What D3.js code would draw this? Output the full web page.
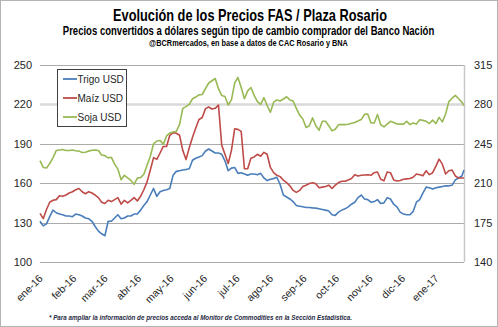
<!DOCTYPE html>
<html><head><meta charset="utf-8">
<script src="https://cdn.jsdelivr.net/npm/d3@7"></script>
<style>html,body{margin:0;padding:0;background:#fff}svg{display:block}</style>
</head><body><svg id="c" width="498" height="327"></svg>
<script>
const dates = [
"2016-01-01","2016-01-04","2016-01-07","2016-01-10","2016-01-13","2016-01-16","2016-01-19","2016-01-22","2016-01-25","2016-01-28",
"2016-01-31","2016-02-03","2016-02-06","2016-02-09","2016-02-12","2016-02-15","2016-02-18","2016-02-21","2016-02-24","2016-02-27",
"2016-03-01","2016-03-04","2016-03-07","2016-03-10","2016-03-13","2016-03-16","2016-03-19","2016-03-22","2016-03-25","2016-03-28",
"2016-03-31","2016-04-03","2016-04-06","2016-04-09","2016-04-12","2016-04-15","2016-04-18","2016-04-21","2016-04-24","2016-04-27",
"2016-04-30","2016-05-03","2016-05-06","2016-05-09","2016-05-12","2016-05-15","2016-05-18","2016-05-21","2016-05-24","2016-05-27",
"2016-05-30","2016-06-02","2016-06-05","2016-06-08","2016-06-11","2016-06-14","2016-06-17","2016-06-20","2016-06-23","2016-06-26",
"2016-06-29","2016-07-02","2016-07-05","2016-07-08","2016-07-11","2016-07-14","2016-07-17","2016-07-20","2016-07-23","2016-07-26",
"2016-07-29","2016-08-01","2016-08-04","2016-08-07","2016-08-10","2016-08-13","2016-08-16","2016-08-19","2016-08-22","2016-08-25",
"2016-08-28","2016-08-31","2016-09-03","2016-09-06","2016-09-09","2016-09-12","2016-09-15","2016-09-18","2016-09-21","2016-09-24",
"2016-09-27","2016-09-30","2016-10-03","2016-10-06","2016-10-09","2016-10-12","2016-10-15","2016-10-18","2016-10-21","2016-10-24",
"2016-10-27","2016-10-30","2016-11-02","2016-11-05","2016-11-08","2016-11-11","2016-11-14","2016-11-17","2016-11-20","2016-11-23",
"2016-11-26","2016-11-29","2016-12-02","2016-12-05","2016-12-08","2016-12-11","2016-12-14","2016-12-17","2016-12-20","2016-12-23",
"2016-12-26","2016-12-29","2017-01-01","2017-01-04","2017-01-07","2017-01-10","2017-01-13","2017-01-16","2017-01-19","2017-01-22",
"2017-01-25","2017-01-27"];

const trigo = [
131,127.5,129,134.5,139.5,137.5,136.5,136,135,135,
134.5,136.5,136,135,133.5,133,131,127,123.5,121.5,
120,131,131,133.5,136,133,133.5,135,135,136.5,
136.5,139.5,143,146,151,156,150,153.5,154.5,155,
156,166,169,169.5,170,170.5,171,177.5,179,180,
181,184.5,186,184.5,183,183,182,177,169.5,171.5,
172,167.5,168,167,166,167,167,166.5,167.5,164,
162,163,163.5,164.5,159,151,149.5,148,146,143,
142.5,142,141.5,141.5,141.2,141,140.5,140,139.5,138.8,
136,135.5,138,139.5,140.5,142,144,145.5,149,151,
148,147.5,145.5,146,147.5,144.5,145,149,148,144,
142,138,136.5,136,136,138.5,145.5,147.5,152.5,157,
156.5,155.5,156.5,157,157.5,158,158,158.5,162.5,164,
165.5,170];

const maiz = [
137,133,140,145.5,147,147.5,150.5,150,151,152.5,
153.5,155,156,153.5,152,153.5,152.5,151,149,145.5,
144.5,147,146,147.5,149,144,147,145,147,149,
146.5,150,155,161,170,179.5,178.2,183,188,188,
196.5,198.5,198,196.5,185,178,187,195,202,208.5,
210,216.8,218,216.5,217,219.5,189,182,175,185,
201.5,201,199.5,171,171,179,180,182,180.5,183.5,
182,172,168,166,165,162.3,160.5,158,154.5,153,
154.5,157.5,158.5,159.8,160.4,159.5,156.5,157,157.5,158.5,
156,158.5,160.5,161.5,161.5,162.5,163.5,166.5,165.5,166,
166.3,166.4,166,168,168.5,163,161.8,168.5,168,162.5,
161.7,162,163,163.3,163.6,164.5,167,166.5,165.7,169.5,
166.5,168,173,178.3,174.5,167,169.5,170,165.5,164,
164,164];

const soja = [
230,224,223.5,227.5,232.5,239,239.5,240,239,239,
239.5,238.8,238.5,237.3,237.5,238.5,239.2,239.5,239,235,
234.5,232.5,233,227,222.5,213,217,214.8,212.5,209,
214.5,215,218,226,234,245,247.5,248,244.5,252,
254.5,255.5,256,262,276.5,278,280,285,286.5,288.5,
288.8,294,299,301,303,294,288,287,279.5,284,
299,304,295,285,292,295,288,282.5,280,286,
279,273,282,284,283,284.8,286.8,284,283,276.5,
270.5,267,259.5,261,268,261,257,265,265,261,
256.5,258,262,262.2,262,262.3,263.2,264,265.3,266.5,
271.2,271.5,263.5,263.5,271,262,260,262.5,265,264,
262.6,262.5,262.5,265,262,263.5,262.5,266.3,265.8,265,
263,266,263,268.5,264.5,271.5,282.5,285.5,288,285,
282,279];

const seriesNames = ["Trigo USD","Maíz USD","Soja USD"];
const seriesColors = ["#4a7ebb","#be4b48","#98b954"];
const leftTicks = [100,130,160,190,220,250];
const rightTicks = [140,175,210,245,280,315];
const monthTicks = ["2016-01-01","2016-02-01","2016-03-01","2016-04-01","2016-05-01","2016-06-01","2016-07-01","2016-08-01","2016-09-01","2016-10-01","2016-11-01","2016-12-01","2017-01-01"];
const monthLabels = ["ene-16","feb-16","mar-16","abr-16","may-16","jun-16","jul-16","ago-16","sep-16","oct-16","nov-16","dic-16","ene-17"];
const titleText = "Evolución de los Precios FAS / Plaza Rosario";
const subtitleText = "Precios convertidos a dólares según tipo de cambio comprador del Banco Nación";
const sourceText = "@BCRmercados, en base a datos de CAC Rosario y BNA";
const footnoteText = "* Para ampliar la información de precios acceda al Monitor de Commodities en la Sección Estadística.";

const parse = d3.timeParse("%Y-%m-%d");
const D = dates.map(parse);
const svg = d3.select("#c");
const W = 498, H = 327;
const m = {l:40, r:464, t:65, b:262};

svg.append("rect").attr("x",0.5).attr("y",0.5).attr("width",W-1).attr("height",H-1)
  .attr("fill","#fff").attr("stroke","#b3b3b3");

const x = d3.scaleTime().domain([parse("2016-01-01"), parse("2017-01-27")]).range([m.l, m.r]);
const yL = d3.scaleLinear().domain([100,250]).range([m.b, m.t]);
const yR = d3.scaleLinear().domain([140,315]).range([m.b, m.t]);

svg.append("g").selectAll("line").data(leftTicks).join("line")
  .attr("x1", m.l).attr("x2", m.r)
  .attr("y1", d=>Math.round(yL(d))+0.5).attr("y2", d=>Math.round(yL(d))+0.5)
  .attr("stroke", d=> d===220 ? "#d9d9d9" : "#ababab")
  .attr("stroke-width", d=> d===220 ? 2.5 : 1);

svg.append("line").attr("x1", m.r+0.5).attr("x2", m.r+0.5).attr("y1", m.t).attr("y2", m.b)
  .attr("stroke","#c8c8c8").attr("stroke-width",1.5);

const fontAxis = "'Liberation Sans', Arial, sans-serif";

const gL = svg.append("g").attr("transform",`translate(${m.l},0)`)
  .call(d3.axisLeft(yL).tickValues(leftTicks).tickSize(0).tickPadding(8));
gL.select(".domain").remove();
gL.selectAll("text").attr("font-family",fontAxis).attr("font-size",11).attr("fill","#262626");

const gR = svg.append("g").attr("transform",`translate(${m.r},0)`)
  .call(d3.axisRight(yR).tickValues(rightTicks).tickSize(0).tickPadding(10));
gR.select(".domain").remove();
gR.selectAll("text").attr("font-family",fontAxis).attr("font-size",11).attr("fill","#262626");

const gX = svg.append("g").attr("transform",`translate(0,${m.b})`)
  .call(d3.axisBottom(x).tickValues(monthTicks.map(parse)).tickFormat((d,i)=>monthLabels[i]).tickSize(0));
gX.select(".domain").remove();
gX.selectAll("text")
  .attr("font-family",fontAxis).attr("font-size",10.5).attr("fill","#262626")
  .attr("text-anchor","end").attr("dy",null).attr("y",null)
  .attr("transform","translate(3,17) rotate(-45)");

const lineL = d3.line().x((d,i)=>x(D[i])).y(d=>yL(d));
const lineR = d3.line().x((d,i)=>x(D[i])).y(d=>yR(d));
svg.append("path").datum(trigo).attr("d",lineL).attr("fill","none").attr("stroke",seriesColors[0]).attr("stroke-width",1.6).attr("stroke-linejoin","round");
svg.append("path").datum(maiz).attr("d",lineL).attr("fill","none").attr("stroke",seriesColors[1]).attr("stroke-width",1.6).attr("stroke-linejoin","round");
svg.append("path").datum(soja).attr("d",lineR).attr("fill","none").attr("stroke",seriesColors[2]).attr("stroke-width",1.6).attr("stroke-linejoin","round");

const lg = svg.append("g");
lg.append("rect").attr("x",57.5).attr("y",69.5).attr("width",69).attr("height",57)
  .attr("fill","#fff").attr("stroke","#404040").attr("stroke-width",1);
seriesNames.forEach((n,i)=>{
  const yy = 79 + i*19;
  lg.append("line").attr("x1",63).attr("x2",77).attr("y1",yy).attr("y2",yy)
    .attr("stroke",seriesColors[i]).attr("stroke-width",1.8);
  lg.append("text").attr("x",77.5).attr("y",yy+3.5).text(n)
    .attr("font-family",fontAxis).attr("font-size",10).attr("fill","#262626");
});

// condensed titles: keep the font height, squeeze horizontally to the reference width
function condensed(txt, cx, cy, fs, target, weight){
  const g = svg.append("g");
  const t = g.append("text").attr("x",0).attr("y",0).attr("text-anchor","middle")
    .attr("font-family",fontAxis).attr("font-weight",weight).attr("font-size",fs).attr("fill","#000").text(txt);
  const w = t.node().getComputedTextLength();
  g.attr("transform",`translate(${cx},${cy}) scale(${(target/w).toFixed(4)},1)`);
  return t;
}
condensed(titleText, 250, 20.5, 16.5, 274, "bold");
condensed(subtitleText, 248.5, 34.5, 12, 372, "bold");
condensed(sourceText, 248.5, 46, 8.5, 199, "bold");

const t4 = svg.append("text").attr("x",49).attr("y",320).attr("text-anchor","start")
  .attr("font-family",fontAxis).attr("font-style","italic").attr("font-weight","bold").attr("font-size",7.5).attr("fill","#1f2a44")
  .text(footnoteText);
const w4 = t4.node().getComputedTextLength();
t4.attr("font-size", (7.5*303/w4).toFixed(2));
</script></body></html>
